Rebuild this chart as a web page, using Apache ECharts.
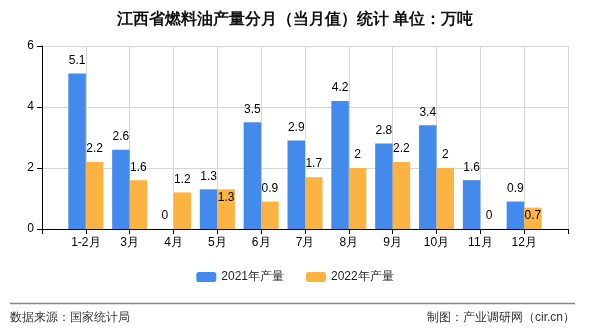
<!DOCTYPE html>
<html><head><meta charset="utf-8">
<script src="https://cdn.jsdelivr.net/npm/echarts@6/dist/echarts.min.js"></script>
<style>html,body{margin:0;padding:0;background:#fff}#c{width:590px;height:330px}</style>
</head><body><div id="c"></div>
<script>
var categories = ['', '1-2月', '3月', '4月', '5月', '6月', '7月', '8月', '9月', '10月', '11月', '12月', ''];
var series2021 = [null, 5.1, 2.6, 0, 1.3, 3.5, 2.9, 4.2, 2.8, 3.4, 1.6, 0.9, null];
var series2022 = [null, 2.2, 1.6, 1.2, 1.3, 0.9, 1.7, 2, 2.2, 2, 0, 0.7, null];
var yTicks = [0, 2, 4, 6];
var names = ['2021年产量', '2022年产量'];
// labels that sit inside the bar top in the reference (avoid overlap)
var insideLabel2022 = {'5月': true, '12月': true};

var chart = echarts.init(document.getElementById('c'));
var font = 'sans-serif';
function items(arr, inside) {
  return arr.map(function (v, i) {
    if (inside && inside[categories[i]]) {
      return {value: v, label: {position: 'insideTop', distance: 2}};
    }
    return v;
  });
}
chart.setOption({
  backgroundColor: '#fff',
  animation: false,
  title: {
    text: '江西省燃料油产量分月（当月值）统计 单位：万吨',
    left: 'center', top: 7,
    textStyle: {fontSize: 16, fontWeight: 'bold', color: '#111', fontFamily: font}
  },
  legend: {
    data: names, bottom: 42, left: 'center', itemWidth: 20, itemHeight: 10, itemGap: 22,
    textStyle: {fontSize: 12, color: '#222', fontFamily: font}
  },
  grid: {left: 42, right: 22, top: 46, bottom: 101},
  xAxis: {
    type: 'category', data: categories, boundaryGap: false,
    axisLine: {lineStyle: {color: '#000'}},
    axisTick: {show: true, alignWithLabel: true, interval: 0, lineStyle: {color: '#000'}, length: 5},
    axisLabel: {interval: 0, color: '#000', fontSize: 12, margin: 8, fontFamily: font},
    splitLine: {show: true, interval: 0, lineStyle: {color: '#d6d6d6'}}
  },
  yAxis: {
    type: 'value', min: yTicks[0], max: yTicks[yTicks.length - 1], interval: 2,
    axisLine: {show: true, lineStyle: {color: '#000'}},
    axisTick: {show: true, lineStyle: {color: '#000'}, length: 5},
    axisLabel: {color: '#000', fontSize: 12, margin: 8, fontFamily: font},
    splitLine: {show: true, lineStyle: {color: '#d6d6d6'}}
  },
  series: [
    {name: names[0], type: 'bar', data: items(series2021), barWidth: 17.5, barGap: '0%',
     itemStyle: {color: '#428BEC'},
     label: {show: true, position: 'top', distance: 7, color: '#000', fontSize: 12, fontFamily: font}},
    {name: names[1], type: 'bar', data: items(series2022, insideLabel2022), barWidth: 17.5, barGap: '0%',
     itemStyle: {color: '#FBB341'},
     label: {show: true, position: 'top', distance: 7, color: '#000', fontSize: 12, fontFamily: font}}
  ],
  graphic: [
    {type: 'line', shape: {x1: 10, y1: 303.5, x2: 575, y2: 303.5}, style: {stroke: '#888', lineWidth: 1.5}},
    {type: 'text', left: 10, top: 312, style: {text: '数据来源：国家统计局', fontSize: 12, fill: '#333', fontFamily: font}},
    {type: 'text', right: 15, top: 312, style: {text: '制图：产业调研网（cir.cn）', fontSize: 12, fill: '#333', fontFamily: font}}
  ]
});
</script></body></html>
